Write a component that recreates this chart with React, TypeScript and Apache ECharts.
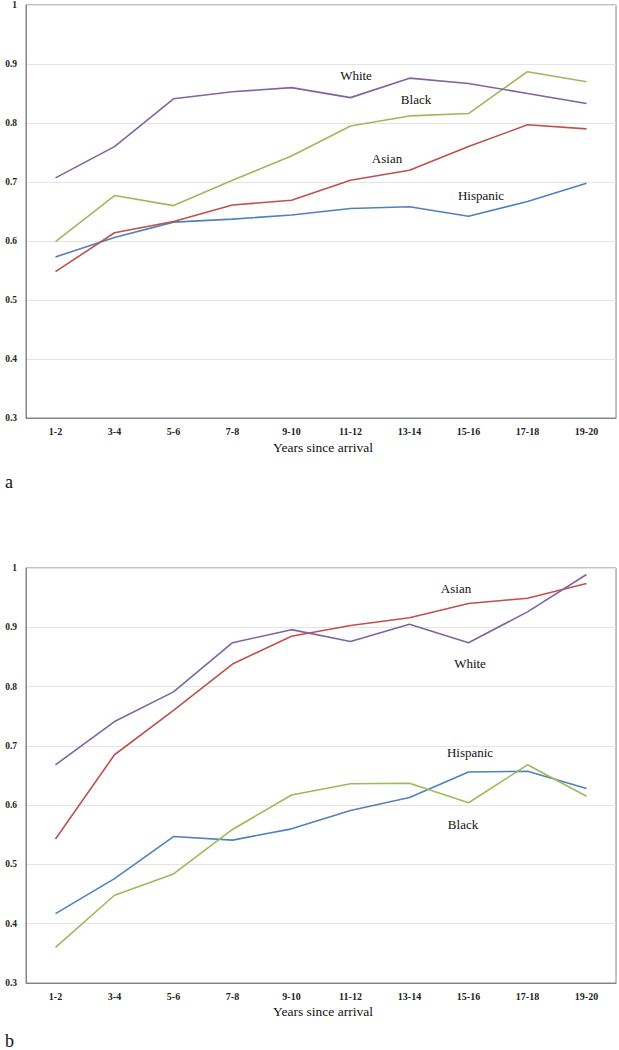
import React, { useEffect, useRef } from "react";
import * as echarts from "echarts";

const categories = ["1-2", "3-4", "5-6", "7-8", "9-10", "11-12", "13-14", "15-16", "17-18", "19-20"];
const yTicks = { min: 0.3, max: 1, interval: 0.1 };

// Panel a
const aWhite = [0.707, 0.760, 0.841, 0.853, 0.860, 0.843, 0.876, 0.867, 0.850, 0.833];
const aBlack = [0.599, 0.677, 0.660, 0.703, 0.744, 0.795, 0.812, 0.816, 0.887, 0.870];
const aAsian = [0.548, 0.614, 0.633, 0.661, 0.669, 0.703, 0.720, 0.760, 0.797, 0.790];
const aHispanic = [0.573, 0.606, 0.632, 0.637, 0.644, 0.655, 0.658, 0.642, 0.667, 0.698];

// Panel b
const bWhite = [0.668, 0.741, 0.791, 0.874, 0.896, 0.876, 0.905, 0.874, 0.926, 0.989];
const bAsian = [0.543, 0.685, 0.760, 0.838, 0.885, 0.903, 0.916, 0.940, 0.949, 0.974];
const bHispanic = [0.417, 0.476, 0.547, 0.541, 0.560, 0.591, 0.613, 0.656, 0.657, 0.628];
const bBlack = [0.360, 0.448, 0.484, 0.559, 0.617, 0.636, 0.637, 0.604, 0.668, 0.615];

const axisTitle = "Years since arrival";
const panelLetters = ["a", "b"];

const COLORS = { white: "#8064A2", black: "#9BBB59", asian: "#C0504D", hispanic: "#4F81BD" };
const FONT = "Liberation Serif";

export default function App() {
  const ref = useRef<HTMLDivElement>(null);
  useEffect(() => {
    document.body.style.margin = "0";
    const chart = echarts.init(ref.current!, undefined, { renderer: "svg" });
    const grids = [
      { left: 26, top: 3, width: 590, height: 415 },
      { left: 26, top: 568, width: 590, height: 415 },
    ];
    const xAxes = grids.map((_, i) => ({
      type: "category",
      gridIndex: i,
      data: categories,
      boundaryGap: true,
      axisTick: { show: false },
      axisLine: { lineStyle: { color: "#868686", width: 1 } },
      axisLabel: { color: "#222", fontFamily: FONT, fontSize: 10, fontWeight: "bold", margin: 8 },
      splitLine: { show: false },
    }));
    const yAxes = grids.map((_, i) => ({
      type: "value",
      gridIndex: i,
      min: yTicks.min,
      max: yTicks.max,
      interval: yTicks.interval,
      axisLine: { show: true, lineStyle: { color: "#868686", width: 1 } },
      axisTick: { show: false },
      axisLabel: {
        color: "#222",
        fontFamily: FONT,
        fontSize: 9.5,
        fontWeight: "bold",
        margin: 9,
        formatter: (v: number) => (Math.abs(v - 1) < 1e-9 ? "1" : v.toFixed(1)),
      },
      splitLine: { show: true, lineStyle: { color: "#e4e4e4", width: 1 } },
    }));
    const mk = (name: string, data: number[], color: string, idx: number) => ({
      name,
      type: "line",
      xAxisIndex: idx,
      yAxisIndex: idx,
      data,
      symbol: "none",
      lineStyle: { color, width: 1.6 },
      itemStyle: { color },
    });
    const txt = (text: string, x: number, y: number, size = 13, align = "center") => ({
      type: "text",
      x,
      y,
      style: {
        text,
        fill: "#111",
        fontFamily: FONT,
        fontSize: size,
        textAlign: align,
        textVerticalAlign: "middle",
      },
    });
    chart.setOption({
      animation: false,
      backgroundColor: "#fff",
      grid: grids.map((g) => ({ ...g, show: true, borderColor: "#868686", borderWidth: 1, backgroundColor: "transparent" })),
      xAxis: xAxes,
      yAxis: yAxes,
      series: [
        mk("Hispanic", aHispanic, COLORS.hispanic, 0),
        mk("Asian", aAsian, COLORS.asian, 0),
        mk("Black", aBlack, COLORS.black, 0),
        mk("White", aWhite, COLORS.white, 0),
        mk("Hispanic", bHispanic, COLORS.hispanic, 1),
        mk("Black", bBlack, COLORS.black, 1),
        mk("Asian", bAsian, COLORS.asian, 1),
        mk("White", bWhite, COLORS.white, 1),
      ],
      graphic: [
        txt("White", 356, 75),
        txt("Black", 416, 99),
        txt("Asian", 387, 158),
        txt("Hispanic", 481, 195),
        txt("Asian", 456, 588),
        txt("White", 470, 663),
        txt("Hispanic", 470, 752),
        txt("Black", 463, 824),
        txt(axisTitle, 323, 447, 13.5),
        txt(axisTitle, 323, 1011, 13.5),
        txt(panelLetters[0], 5, 482, 18, "left"),
        txt(panelLetters[1], 5, 1041, 18, "left"),
      ],
    });
    return () => chart.dispose();
  }, []);
  return <div ref={ref} style={{ width: 619, height: 1050 }} />;
}
